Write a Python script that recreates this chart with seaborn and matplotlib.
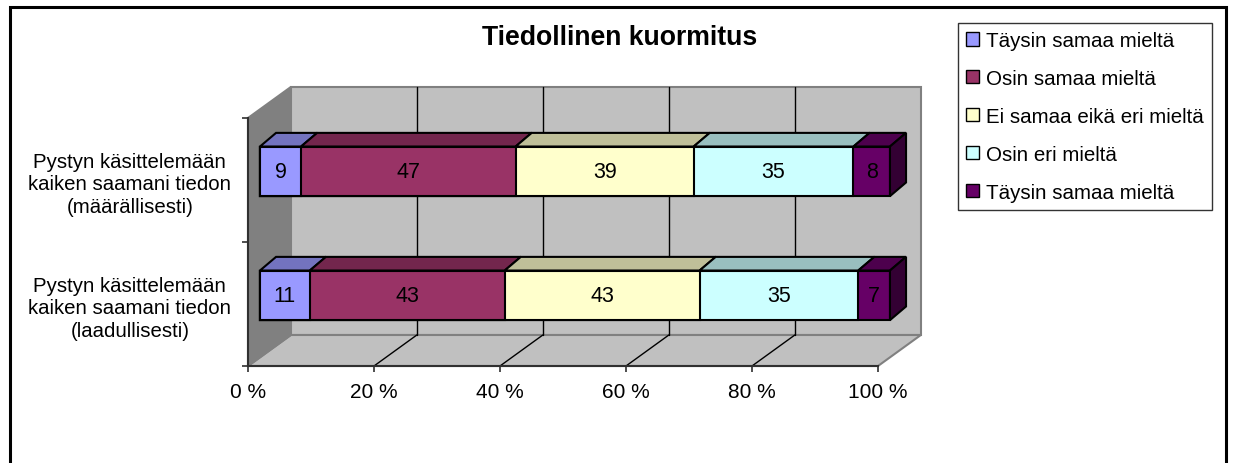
import numpy as np
import matplotlib
matplotlib.use("Agg")
import matplotlib.pyplot as plt
from matplotlib.colors import to_rgb
from matplotlib.patches import Polygon, Rectangle, Patch
import seaborn as sns

# --- data ---
categories = [
    "Pystyn käsittelemään\nkaiken saamani tiedon\n(määrällisesti)",
    "Pystyn käsittelemään\nkaiken saamani tiedon\n(laadullisesti)",
]
series_names = [
    "Täysin samaa mieltä",
    "Osin samaa mieltä",
    "Ei samaa eikä eri mieltä",
    "Osin eri mieltä",
    "Täysin samaa mieltä",
]
taysin_samaa = [9, 11]
osin_samaa = [47, 43]
ei_samaa_eika_eri = [39, 43]
osin_eri = [35, 35]
taysin_eri = [8, 7]
x_ticks = [0, 20, 40, 60, 80, 100]
x_tick_labels = ["0 %", "20 %", "40 %", "60 %", "80 %", "100 %"]
title = "Tiedollinen kuormitus"

colors = ["#9999FF", "#993366", "#FFFFCC", "#CCFFFF", "#660066"]

sns.set_style("white")
plt.rcParams["font.family"] = ["Liberation Sans", "DejaVu Sans"]
plt.rcParams["text.color"] = "black"
plt.rcParams["xtick.color"] = "black"
plt.rcParams["ytick.color"] = "black"


def shade(c, f):
    return tuple(v * f for v in to_rgb(c))


counts = np.array([taysin_samaa, osin_samaa, ei_samaa_eika_eri, osin_eri, taysin_eri], dtype=float)
pct = counts / counts.sum(axis=0) * 100
right = pct.cumsum(axis=0)
left = right - pct

# fake 3d geometry (data units: % along x, category units along y)
WALL = (6.8, -0.25)    # depth of the back wall
SHIFT = (1.9, -0.07)   # bars sit a bit behind the front plane
DEPTH = (2.55, -0.11)  # thickness of the bars
BAR_H = 0.40
FS = 15

fig = plt.figure(figsize=(12.36, 4.64), dpi=100)
ax = fig.add_axes([248 / 1236, 97 / 464, 630 / 1236, 248 / 464])
ax.patch.set_visible(False)

# stacked bars: draw cumulative totals, longest first
for k in reversed(range(len(series_names))):
    sns.barplot(x=right[k], y=categories, orient="h", color=colors[k], saturation=1,
                width=BAR_H, errorbar=None, edgecolor="black", linewidth=1.5, ax=ax)

for p in ax.patches:
    p.set_x(p.get_x() + SHIFT[0])
    p.set_y(p.get_y() + SHIFT[1])
    p.set_clip_on(False)
    p.set_zorder(3)

# walls and floor
ax.add_patch(Rectangle((WALL[0], -0.5 + WALL[1]), 100, 2.0, facecolor="#C0C0C0",
                       edgecolor="#808080", lw=1.5, clip_on=False, zorder=0))
ax.add_patch(Polygon([(0, 1.5), (100, 1.5), (100 + WALL[0], 1.5 + WALL[1]), (WALL[0], 1.5 + WALL[1])],
                     closed=True, facecolor="#C0C0C0", edgecolor="#808080", lw=1.5,
                     clip_on=False, zorder=0))
ax.add_patch(Polygon([(0, -0.5), (WALL[0], -0.5 + WALL[1]), (WALL[0], 1.5 + WALL[1]), (0, 1.5)],
                     closed=True, facecolor="#808080", edgecolor="#808080", lw=1.5,
                     clip_on=False, zorder=0))
for x in x_ticks[1:-1]:
    ax.plot([x + WALL[0], x + WALL[0]], [-0.5 + WALL[1], 1.5 + WALL[1]], color="black",
            lw=1, clip_on=False, zorder=1)
    ax.plot([x, x + WALL[0]], [1.5, 1.5 + WALL[1]], color="black", lw=1, clip_on=False, zorder=1)

# top faces, end face and labels
for i in range(len(categories)):
    y_top = i - BAR_H / 2 + SHIFT[1]
    y_bot = i + BAR_H / 2 + SHIFT[1]
    for k in range(len(series_names)):
        xl = left[k, i] + SHIFT[0]
        xr = right[k, i] + SHIFT[0]
        ax.add_patch(Polygon([(xl, y_top), (xr, y_top), (xr + DEPTH[0], y_top + DEPTH[1]),
                              (xl + DEPTH[0], y_top + DEPTH[1])], closed=True,
                             facecolor=shade(colors[k], 0.75), edgecolor="black", lw=1.5,
                             clip_on=False, zorder=3))
        ax.text((xl + xr) / 2, i + SHIFT[1], f"{counts[k, i]:.0f}", ha="center", va="center",
                fontsize=15.5, color="black", zorder=5)
    xr = right[-1, i] + SHIFT[0]
    ax.add_patch(Polygon([(xr, y_top), (xr + DEPTH[0], y_top + DEPTH[1]),
                          (xr + DEPTH[0], y_bot + DEPTH[1]), (xr, y_bot)], closed=True,
                         facecolor=shade(colors[-1], 0.5), edgecolor="black", lw=1.5,
                         clip_on=False, zorder=3))

# axes
ax.set_xlim(0, 100)
ax.set_ylim(1.5, -0.5)
ax.set_xlabel("")
ax.set_ylabel("")
for s in ["top", "right"]:
    ax.spines[s].set_visible(False)
for s in ["left", "bottom"]:
    ax.spines[s].set_color("#303030")
    ax.spines[s].set_linewidth(1.5)
    ax.spines[s].set_zorder(2)
ax.set_xticks(x_ticks, x_tick_labels)
ax.set_yticks([-0.5, 0.5, 1.5], ["", "", ""])
ax.set_yticks([0, 1], categories, minor=True)
ax.tick_params(which="major", bottom=True, left=True, length=4.5, width=1.2,
               color="#303030", direction="out")
ax.tick_params(axis="x", labelsize=FS, pad=7, labelcolor="black")
ax.tick_params(axis="y", which="minor", left=True, length=0, pad=12, labelsize=14.7,
               labelcolor="black")
for lbl in ax.get_yticklabels(minor=True):
    lbl.set_multialignment("center")
    lbl.set_linespacing(1.25)

# legend
handles = [Patch(facecolor=c, edgecolor="black", lw=1) for c in colors]
leg = fig.legend(handles, series_names, loc="upper left",
                 bbox_to_anchor=(958 / 1236, 1 - 24 / 464), frameon=True, fancybox=False,
                 edgecolor="black", fontsize=14.8, labelspacing=0.92, handlelength=0.6,
                 handleheight=0.6, handletextpad=0.35, borderpad=0.4, borderaxespad=0)
leg.get_frame().set_linewidth(1)
for t in leg.get_texts():
    t.set_color("black")

fig.text(620 / 1236, 1 - 38 / 464, title, ha="center", va="center", fontsize=19.2,
         fontweight="bold", color="black")

# outer frame of the chart object
fig.add_artist(Rectangle((10 / 1236, -0.1), 1216 / 1236, 1.1 - 8 / 464,
                         transform=fig.transFigure, fill=False, ec="black", lw=2.2))

fig.savefig("out.png", dpi=100)
